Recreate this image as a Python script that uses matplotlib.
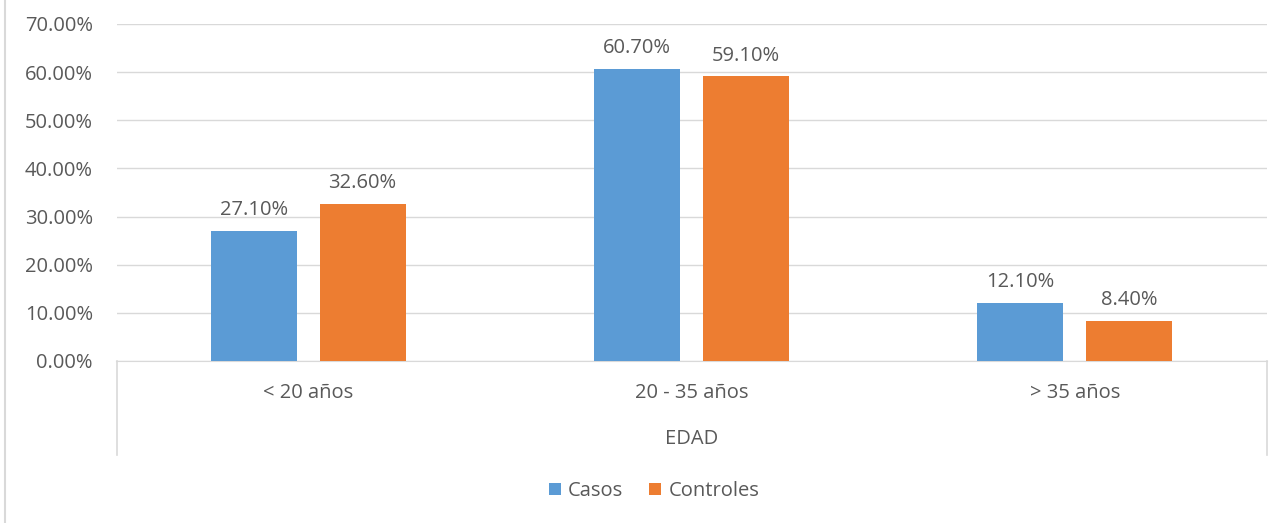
import numpy as np
import matplotlib.pyplot as plt
from matplotlib.lines import Line2D

categories = ['< 20 años', '20 - 35 años', '> 35 años']
casos = [27.1, 60.7, 12.1]
controles = [32.6, 59.1, 8.4]
series_names = ['Casos', 'Controles']
yticks = [0, 10, 20, 30, 40, 50, 60, 70]
group_label = 'EDAD'

blue = '#5B9BD5'
orange = '#ED7D31'
txt = '#595959'
grid = '#D9D9D9'
fs = 14.5

plt.rcParams['font.family'] = ['Open Sans', 'DejaVu Sans']

fig = plt.figure(figsize=(12.84, 5.23), dpi=100)
ax = fig.add_axes([116.5 / 1284, 1 - 361 / 523, 1150 / 1284, 337 / 523])

x = np.arange(len(categories))
w = 0.224
off = 0.142
b1 = ax.bar(x - off, casos, w, color=blue, label=series_names[0], zorder=3)
b2 = ax.bar(x + off, controles, w, color=orange, label=series_names[1], zorder=3)

for bars, vals in ((b1, casos), (b2, controles)):
    for r, v in zip(bars, vals):
        ax.text(r.get_x() + r.get_width() / 2, v + 3.3, f'{v:.2f}%',
                ha='center', va='baseline', fontsize=fs, color=txt)

ax.set_xlim(-0.5, 2.5)
ax.set_ylim(0, 70)
ax.set_yticks(yticks)
ax.set_yticklabels([f'{t:.2f}%' for t in yticks], fontsize=fs, color=txt)
ax.yaxis.grid(True, color=grid, linewidth=1, zorder=0)
ax.tick_params(axis='y', length=0, pad=17)
ax.set_xticks([])
for s in ['top', 'right', 'left']:
    ax.spines[s].set_visible(False)
ax.spines['bottom'].set_color(grid)

# category labels and group label below the axis
for xi, c in zip(x, categories):
    ax.text(xi, -6.7, c, ha='center', va='center', fontsize=fs, color=txt,
            clip_on=False)
ax.text(1, -16.1, group_label, ha='center', va='center', fontsize=fs,
        color=txt, clip_on=False)

# separators of the multi-level axis
for xs in (117, 1267):
    fig.add_artist(Line2D([xs / 1284, xs / 1284], [1 - 361 / 523, 1 - 455 / 523],
                          color=grid, linewidth=1.2))
# left border of the chart
fig.add_artist(Line2D([5.5 / 1284, 5.5 / 1284], [0, 1], color=grid, linewidth=1.5))

fig.legend(handles=[b1, b2], loc='center', bbox_to_anchor=(654 / 1284, 1 - 491 / 523),
           ncol=2, frameon=False, fontsize=fs, labelcolor=txt,
           handlelength=0.6, handleheight=0.6, handletextpad=0.35, columnspacing=1.3)

fig.savefig('out.png', dpi=100)
